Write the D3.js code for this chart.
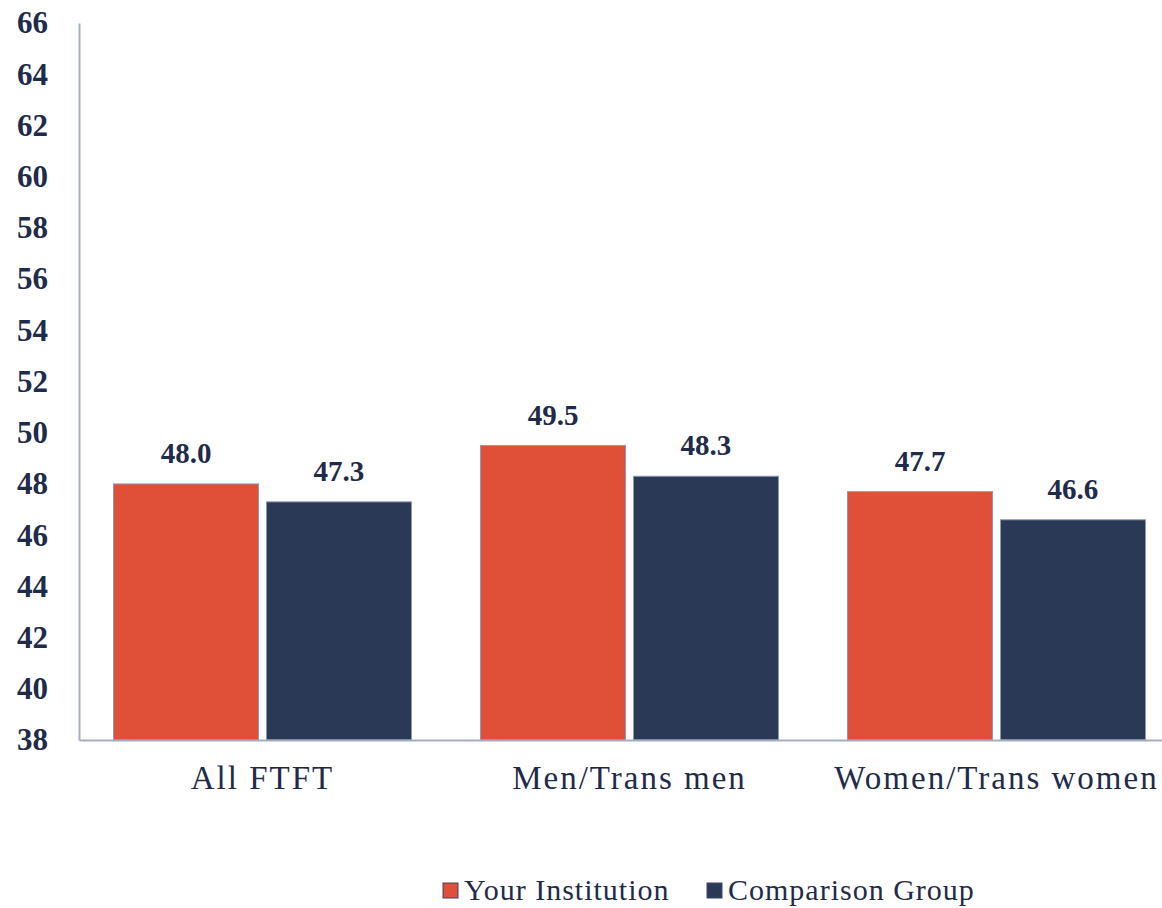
<!DOCTYPE html>
<html>
<head>
<meta charset="utf-8">
<script src="https://cdn.jsdelivr.net/npm/d3@7"></script>
<style>
  body { margin: 0; background: #fff; }
  svg { display: block; }
</style>
</head>
<body>
<svg width="1162" height="908"></svg>
<script>
// 数据
const categories = ["All FTFT", "Men/Trans men", "Women/Trans women"];
const seriesNames = ["Your Institution", "Comparison Group"];
const yourInstitution = [48.0, 49.5, 47.7];
const comparisonGroup = [47.3, 48.3, 46.6];
const yTicks = [38, 40, 42, 44, 46, 48, 50, 52, 54, 56, 58, 60, 62, 64, 66];

const colors = ["#E04F37", "#2A3A56"];
const textColor = "#1F2B4B";
const font = "'Liberation Serif', 'Times New Roman', serif";

const svg = d3.select("svg");
const plotLeft = 79, plotRight = 1180, plotTop = 23, plotBottom = 740;

const x = d3.scaleBand().domain(categories).range([plotLeft, plotRight]).paddingInner(0).paddingOuter(0);
// 组内两根柱子：宽约 145，间隔约 8
const x1 = d3.scaleBand().domain(seriesNames)
    .range([34.5, x.bandwidth() - 34.5])
    .paddingInner(0.052).paddingOuter(0);
const y = d3.scaleLinear().domain([38, 66]).range([plotBottom, plotTop]);

const rows = categories.map((c, i) => ({ cat: c, vals: [yourInstitution[i], comparisonGroup[i]] }));

// 柱子
const g = svg.selectAll("g.grp").data(rows).enter().append("g")
    .attr("class", "grp")
    .attr("transform", d => `translate(${x(d.cat)},0)`);

g.selectAll("rect").data(d => d.vals.map((v, j) => ({ v, s: seriesNames[j], j })))
    .enter().append("rect")
    .attr("x", d => x1(d.s))
    .attr("y", d => y(d.v))
    .attr("width", x1.bandwidth())
    .attr("height", d => plotBottom - y(d.v))
    .attr("fill", d => colors[d.j])
    .attr("stroke", "#8C9AB3")
    .attr("stroke-width", 1);

// 数值标签
g.selectAll("text.val").data(d => d.vals.map((v, j) => ({ v, s: seriesNames[j] })))
    .enter().append("text")
    .attr("class", "val")
    .attr("x", d => x1(d.s) + x1.bandwidth() / 2)
    .attr("y", d => y(d.v) - 21)
    .attr("text-anchor", "middle")
    .attr("font-family", font)
    .attr("font-weight", "bold")
    .attr("font-size", 29)
    .attr("fill", textColor)
    .text(d => d.v.toFixed(1));

// y 轴
const yAxis = svg.append("g")
    .attr("transform", `translate(${plotLeft},0)`)
    .call(d3.axisLeft(y).tickValues(yTicks).tickSize(0).tickPadding(31));
yAxis.select(".domain").attr("stroke", "#A3ADBF").attr("stroke-width", 2);
yAxis.selectAll("text")
    .attr("font-family", font)
    .attr("font-weight", "bold")
    .attr("font-size", 31)
    .attr("fill", textColor);

// x 轴
const xAxis = svg.append("g")
    .attr("transform", `translate(0,${plotBottom})`)
    .call(d3.axisBottom(x).tickSize(0).tickPadding(26));
xAxis.select(".domain").attr("stroke", "#A3ADBF").attr("stroke-width", 2);
xAxis.selectAll("text")
    .attr("font-family", font)
    .attr("font-size", 33)
    .attr("letter-spacing", 2)
    .attr("fill", textColor);

// 图例
const legendX = [443, 707];
const legend = svg.selectAll("g.leg").data(seriesNames).enter().append("g")
    .attr("class", "leg")
    .attr("transform", (d, i) => `translate(${legendX[i]},883)`);
legend.append("rect")
    .attr("width", 15).attr("height", 15)
    .attr("fill", (d, i) => colors[i])
    .attr("stroke", "#3A4766").attr("stroke-width", 1);
legend.append("text")
    .attr("x", 21).attr("y", 17)
    .attr("font-family", font)
    .attr("font-size", 30)
    .attr("letter-spacing", 1)
    .attr("fill", textColor)
    .text(d => d);
</script>
</body>
</html>
